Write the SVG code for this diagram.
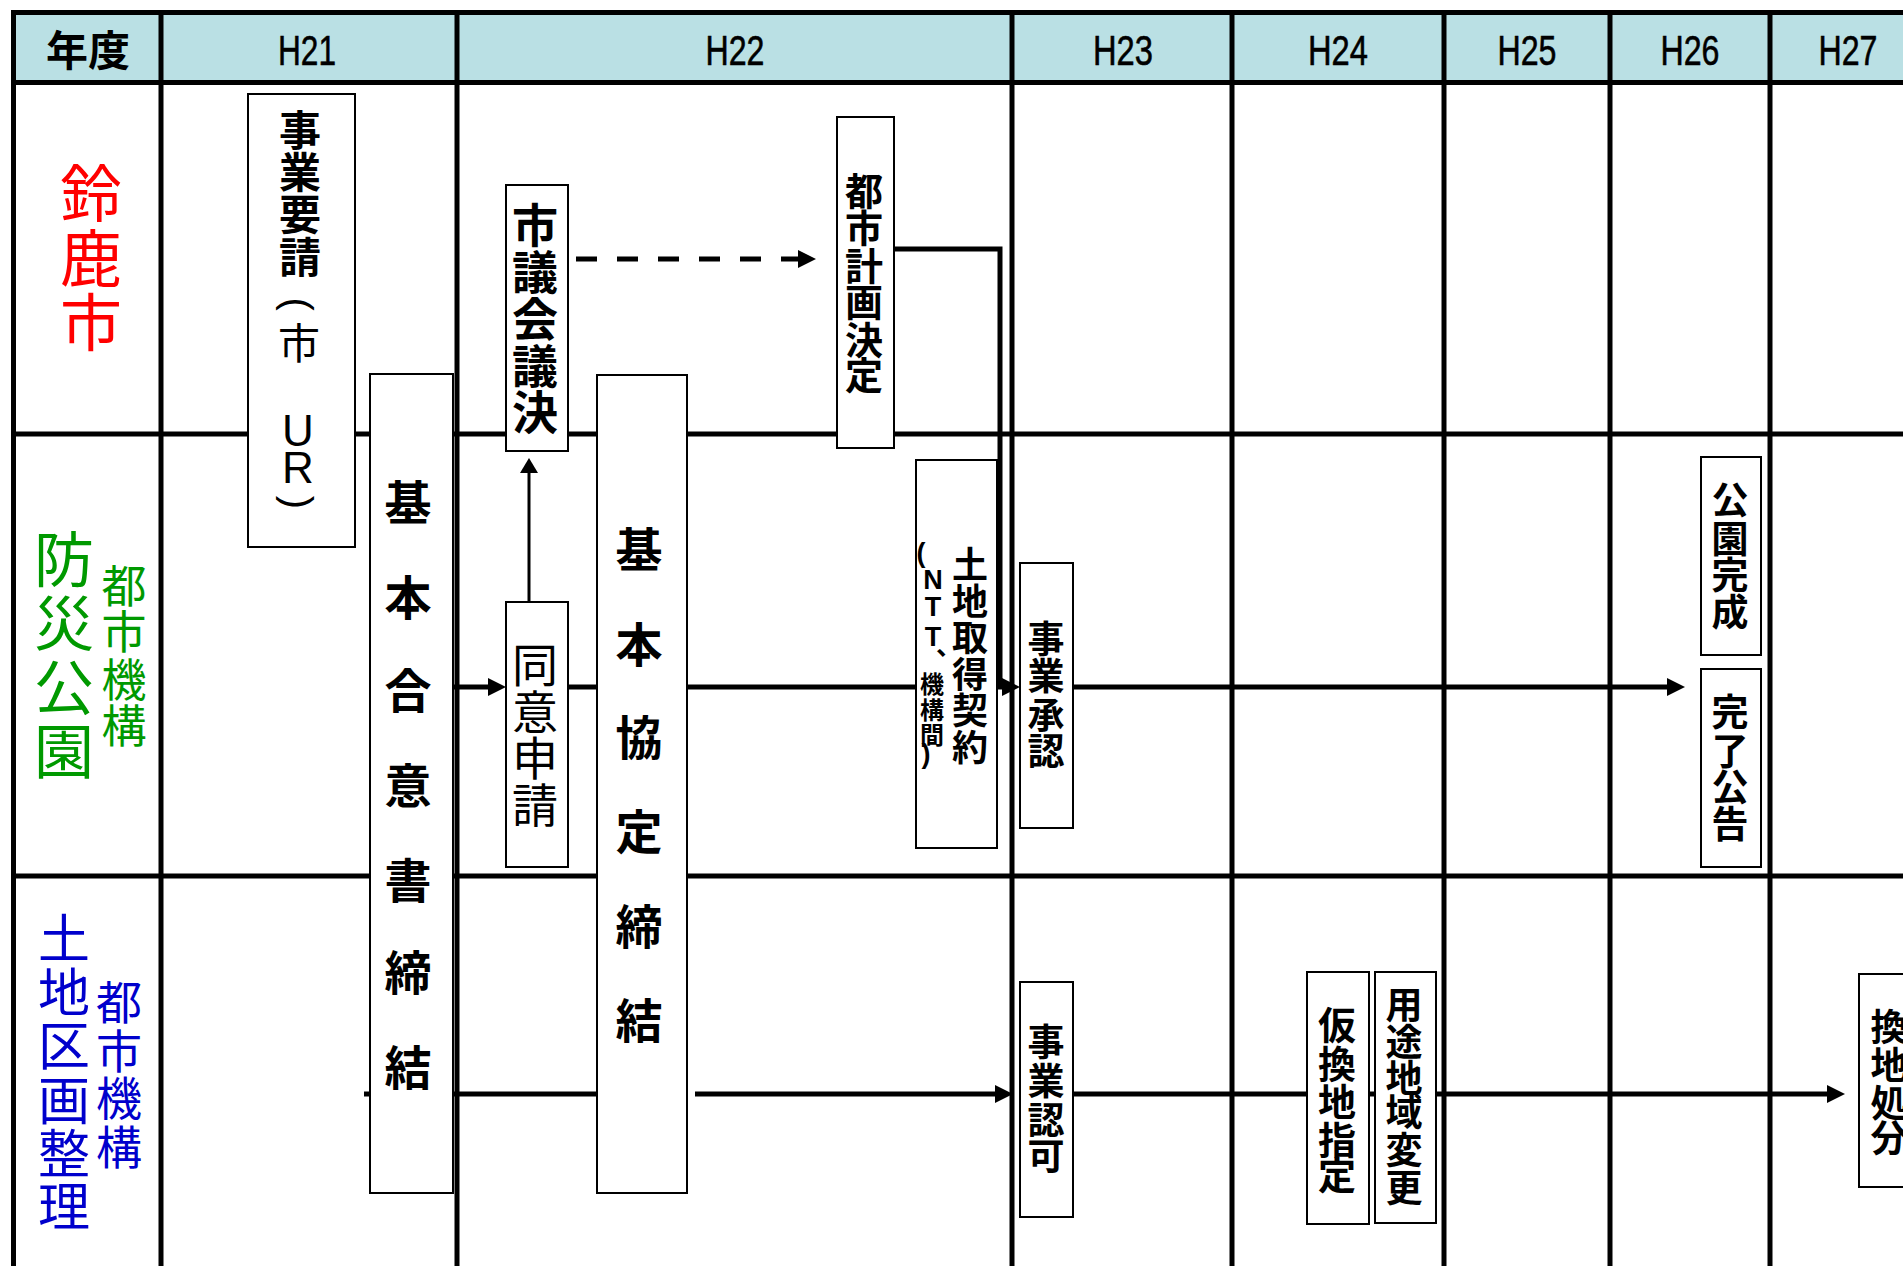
<svg xmlns="http://www.w3.org/2000/svg" width="1903" height="1266" viewBox="0 0 1903 1266">
<defs>
<style>
.grid{stroke:#000;stroke-width:5;fill:none}
.box{fill:#fff;stroke:#000;stroke-width:2}
.flow{stroke:#000;stroke-width:5;fill:none}
.thin{stroke:#000;stroke-width:3;fill:none}
.dash{stroke-dasharray:21 20}
.t{font-family:"Liberation Sans","Noto Sans CJK JP",sans-serif;text-anchor:middle;fill:#000}
.ts{font-family:"Liberation Sans","Noto Sans CJK JP",sans-serif;text-anchor:start;fill:#000}
.b{font-weight:bold}
.hy{font-family:"Liberation Sans Narrow","Liberation Sans",sans-serif;font-size:42px;text-anchor:middle;fill:#000;stroke:#000;stroke-width:0.6}
.red{fill:#FF0000}
.grn{fill:#009900}
.blu{fill:#0000CC}
</style>
<marker id="arr" viewBox="0 0 18 18" refX="6" refY="9" markerWidth="18" markerHeight="18" markerUnits="userSpaceOnUse" orient="auto"><path d="M0,0 L18,9 L0,18 z" fill="#000"/></marker>
<marker id="arrs" viewBox="0 0 15 18" refX="5" refY="9" markerWidth="15" markerHeight="18" markerUnits="userSpaceOnUse" orient="auto"><path d="M0,0 L15,9 L0,18 z" fill="#000"/></marker>
</defs>
<rect width="1903" height="1266" fill="#fff"/>
<g id="header">
<rect x="13" y="12" width="1890" height="70" fill="#BAE0E4"/>
<text class="t b" x="88" y="66" font-size="42">年度</text>
<text class="hy" x="307" y="65" textLength="58" lengthAdjust="spacingAndGlyphs">H21</text>
<text class="hy" x="735" y="65" textLength="59" lengthAdjust="spacingAndGlyphs">H22</text>
<text class="hy" x="1123" y="65" textLength="60" lengthAdjust="spacingAndGlyphs">H23</text>
<text class="hy" x="1338" y="65" textLength="60" lengthAdjust="spacingAndGlyphs">H24</text>
<text class="hy" x="1527" y="65" textLength="59" lengthAdjust="spacingAndGlyphs">H25</text>
<text class="hy" x="1690" y="65" textLength="59" lengthAdjust="spacingAndGlyphs">H26</text>
<text class="hy" x="1848" y="65" textLength="59" lengthAdjust="spacingAndGlyphs">H27</text>
</g>
<g id="grid" class="grid">
<line x1="11" y1="12.5" x2="1903" y2="12.5"/>
<line x1="11" y1="82.5" x2="1903" y2="82.5"/>
<line x1="11" y1="434" x2="1903" y2="434"/>
<line x1="11" y1="876" x2="1903" y2="876"/>
<line x1="13.5" y1="10" x2="13.5" y2="1266"/>
<line x1="161" y1="10" x2="161" y2="1266"/>
<line x1="457" y1="10" x2="457" y2="1266"/>
<line x1="1012" y1="10" x2="1012" y2="1266"/>
<line x1="1232" y1="10" x2="1232" y2="1266"/>
<line x1="1444" y1="10" x2="1444" y2="1266"/>
<line x1="1610" y1="10" x2="1610" y2="1266"/>
<line x1="1770" y1="10" x2="1770" y2="1266"/>
</g>
<g id="lane-suzuka">
<text class="t red" font-size="62"><tspan x="91" y="217">鈴</tspan><tspan x="91" y="282">鹿</tspan><tspan x="91" y="346">市</tspan></text>
</g>
<g id="lane-bousai">
<text class="t grn" font-size="60"><tspan x="64" y="582">防</tspan><tspan x="64" y="646">災</tspan><tspan x="64" y="710">公</tspan><tspan x="64" y="774">園</tspan></text>
<text class="t grn" font-size="45"><tspan x="124" y="603">都</tspan><tspan x="124" y="649">市</tspan><tspan x="124" y="697">機</tspan><tspan x="124" y="743">構</tspan></text>
</g>
<g id="lane-kukaku">
<text class="t blu" font-size="52"><tspan x="64" y="958">土</tspan><tspan x="64" y="1012">地</tspan><tspan x="64" y="1065">区</tspan><tspan x="64" y="1120">画</tspan><tspan x="64" y="1173">整</tspan><tspan x="64" y="1226">理</tspan></text>
<text class="t blu" font-size="46"><tspan x="119" y="1019">都</tspan><tspan x="119" y="1068">市</tspan><tspan x="119" y="1115">機</tspan><tspan x="119" y="1164">構</tspan></text>
</g>
<g id="connectors">
<line class="flow dash" x1="576" y1="259" x2="804" y2="259" marker-end="url(#arr)"/>
<polyline class="flow" points="894,249 1000,249 1000,687 1008,687" marker-end="url(#arr)"/>
<line class="thin" x1="529" y1="602" x2="529" y2="468" marker-end="url(#arrs)"/>
<line class="flow" x1="453" y1="687" x2="494" y2="687" marker-end="url(#arr)"/>
<line class="flow" x1="568" y1="687" x2="597" y2="687"/>
<line class="flow" x1="687" y1="687" x2="916" y2="687"/>
<line class="flow" x1="1073" y1="687" x2="1673" y2="687" marker-end="url(#arr)"/>
<line class="flow" x1="364" y1="1094" x2="370" y2="1094"/>
<line class="flow" x1="453" y1="1094" x2="597" y2="1094"/>
<line class="flow" x1="695" y1="1094" x2="1001" y2="1094" marker-end="url(#arr)"/>
<line class="flow" x1="1073" y1="1094" x2="1307" y2="1094"/>
<line class="flow" x1="1369" y1="1094" x2="1375" y2="1094"/>
<line class="flow" x1="1436" y1="1094" x2="1833" y2="1094" marker-end="url(#arr)"/>
</g>
<g id="n-jigyoyousei">
<rect class="box" x="248" y="94" width="107" height="453"/>
<text class="t b" font-size="42"><tspan x="300" y="146">事</tspan><tspan x="300" y="188">業</tspan><tspan x="300" y="230">要</tspan><tspan x="300" y="273">請</tspan></text>
<text class="ts" x="283.6" y="297.6" font-size="40" rotate="90">(</text>
<text class="t" font-size="42"><tspan x="299" y="358.5">市</tspan><tspan x="299" y="400">　</tspan></text>
<text class="t" font-size="44"><tspan x="298" y="446">U</tspan><tspan x="298" y="483">R</tspan></text>
<text class="ts" x="283.6" y="495.7" font-size="40" rotate="90">)</text>
</g>
<g id="n-kihongoui">
<rect class="box" x="370" y="374" width="83" height="819"/>
<text class="t b" font-size="47"><tspan x="408" y="520">基</tspan><tspan x="408" y="615">本</tspan><tspan x="408" y="708">合</tspan><tspan x="408" y="803">意</tspan><tspan x="408" y="898">書</tspan><tspan x="408" y="990">締</tspan><tspan x="408" y="1085">結</tspan></text>
</g>
<g id="n-shigikai">
<rect class="box" x="506" y="185" width="62" height="266"/>
<text class="t b" font-size="46"><tspan x="535" y="242">市</tspan><tspan x="535" y="289">議</tspan><tspan x="535" y="336">会</tspan><tspan x="535" y="383">議</tspan><tspan x="535" y="429">決</tspan></text>
</g>
<g id="n-doui">
<rect class="box" x="506" y="602" width="62" height="265"/>
<text class="t" font-size="46"><tspan x="535" y="682">同</tspan><tspan x="535" y="729">意</tspan><tspan x="535" y="775">申</tspan><tspan x="535" y="822">請</tspan></text>
</g>
<g id="n-kihonkyoutei">
<rect class="box" x="597" y="375" width="90" height="818"/>
<text class="t b" font-size="47"><tspan x="639" y="567">基</tspan><tspan x="639" y="662">本</tspan><tspan x="639" y="755">協</tspan><tspan x="639" y="849">定</tspan><tspan x="639" y="944">締</tspan><tspan x="639" y="1038">結</tspan></text>
</g>
<g id="n-toshikeikaku">
<rect class="box" x="837" y="117" width="57" height="331"/>
<text class="t b" font-size="38"><tspan x="864" y="205">都</tspan><tspan x="864" y="242">市</tspan><tspan x="864" y="280">計</tspan><tspan x="864" y="316">画</tspan><tspan x="864" y="354">決</tspan><tspan x="864" y="389">定</tspan></text>
</g>
<g id="n-tochishutoku">
<rect class="box" x="916" y="460" width="81" height="388"/>
<text class="t b" font-size="36"><tspan x="970" y="578">土</tspan><tspan x="970" y="615">地</tspan><tspan x="970" y="651">取</tspan><tspan x="970" y="688">得</tspan><tspan x="970" y="724">契</tspan><tspan x="970" y="761">約</tspan></text>
<text class="t b" font-size="27"><tspan x="921" y="562">(</tspan><tspan x="933" y="589">N</tspan><tspan x="933" y="616">T</tspan><tspan x="933" y="646">T</tspan></text>
<text class="ts b" x="936" y="655" font-size="26">、</text>
<text class="t b" font-size="24"><tspan x="932" y="693">機</tspan><tspan x="932" y="719">構</tspan><tspan x="932" y="744">間</tspan></text>
<text class="t b" x="926" y="763" font-size="27">)</text>
</g>
<g id="n-jigyoshounin">
<rect class="box" x="1020" y="563" width="53" height="265"/>
<text class="t b" font-size="37"><tspan x="1046" y="653">事</tspan><tspan x="1046" y="690">業</tspan><tspan x="1046" y="729">承</tspan><tspan x="1046" y="765">認</tspan></text>
</g>
<g id="n-kouenkansei">
<rect class="box" x="1701" y="457" width="60" height="198"/>
<text class="t b" font-size="37"><tspan x="1730" y="514">公</tspan><tspan x="1730" y="553">園</tspan><tspan x="1730" y="589">完</tspan><tspan x="1730" y="626">成</tspan></text>
</g>
<g id="n-kanryoukoukoku">
<rect class="box" x="1701" y="669" width="60" height="198"/>
<text class="t b" font-size="37"><tspan x="1730" y="726">完</tspan><tspan x="1730" y="765">了</tspan><tspan x="1730" y="801">公</tspan><tspan x="1730" y="838">告</tspan></text>
</g>
<g id="n-jigyouninka">
<rect class="box" x="1020" y="982" width="53" height="235"/>
<text class="t b" font-size="37"><tspan x="1046" y="1056">事</tspan><tspan x="1046" y="1095">業</tspan><tspan x="1046" y="1134">認</tspan><tspan x="1046" y="1170">可</tspan></text>
</g>
<g id="n-karikanchi">
<rect class="box" x="1307" y="972" width="62" height="252"/>
<text class="t b" font-size="38"><tspan x="1337" y="1039">仮</tspan><tspan x="1337" y="1078">換</tspan><tspan x="1337" y="1116">地</tspan><tspan x="1337" y="1154">指</tspan><tspan x="1337" y="1189">定</tspan></text>
</g>
<g id="n-youtochiiki">
<rect class="box" x="1375" y="972" width="61" height="251"/>
<text class="t b" font-size="37"><tspan x="1404" y="1019">用</tspan><tspan x="1404" y="1056">途</tspan><tspan x="1404" y="1092">地</tspan><tspan x="1404" y="1126">域</tspan><tspan x="1404" y="1164">変</tspan><tspan x="1404" y="1202">更</tspan></text>
</g>
<g id="n-kanchishobun">
<rect class="box" x="1859" y="974" width="60" height="213"/>
<text class="t b" font-size="37"><tspan x="1889" y="1041">換</tspan><tspan x="1889" y="1079">地</tspan><tspan x="1889" y="1117">処</tspan><tspan x="1889" y="1152">分</tspan></text>
</g>
</svg>
